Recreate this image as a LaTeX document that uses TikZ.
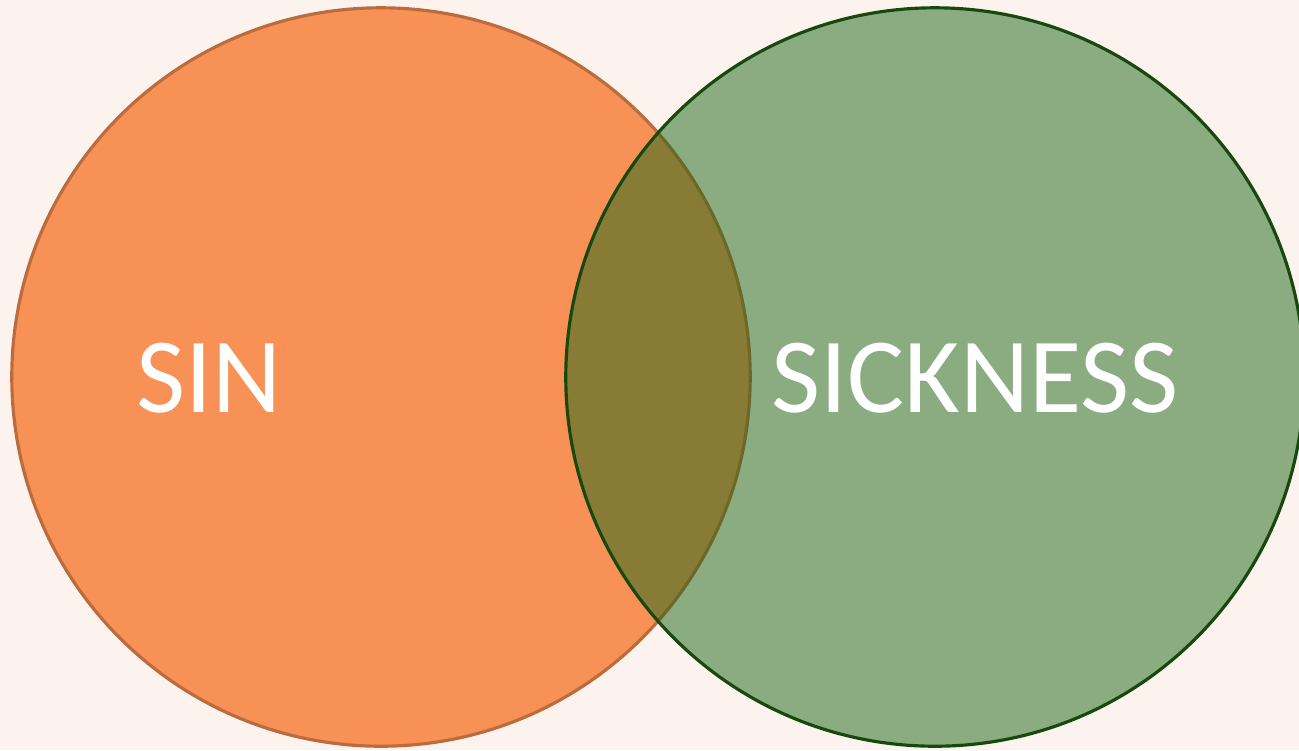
\documentclass[tikz,border=0pt]{standalone}
\usepackage{fontspec}
\setmainfont{Carlito}
\usepackage{tikz}
\usetikzlibrary{positioning}
\definecolor{vennBg}{HTML}{FDF3EE}
\definecolor{vennSin}{HTML}{F79155}
\definecolor{vennSinLine}{HTML}{BC6C3C}
\definecolor{vennSick}{HTML}{1B6716}
\definecolor{vennSickLine}{HTML}{17490F}
\tikzset{
    vennBase/.style={
        circle,
        minimum size=7.38cm,
        inner sep=0pt,
        line width=0.9pt
    },
    % Semantic Variants
    sinSet/.style={vennBase, fill=vennSin, draw=vennSinLine},
    sickSet/.style={vennBase, fill=vennSick, fill opacity=0.5, draw=vennSickLine, draw opacity=1},
    vennLabel/.style={
        text=white,
        font=\fontsize{30.4}{30.4}\selectfont,
        inner sep=0pt
    }
}
\begin{document}
\begin{tikzpicture}[x=0.01cm, y=-0.01cm]
\fill[vennBg] (0,0) rectangle (1299,750);
\useasboundingbox (0,0) rectangle (1299,750);
\node[sinSet] (sin) at (381,377) {};
\node[sickSet] (sick) at (935,377) {};
\node[vennLabel] (sinText) at (209,378) {SIN};
\node[vennLabel] (sickText) at (975,378) {SICKNESS};
\end{tikzpicture}
\end{document}
